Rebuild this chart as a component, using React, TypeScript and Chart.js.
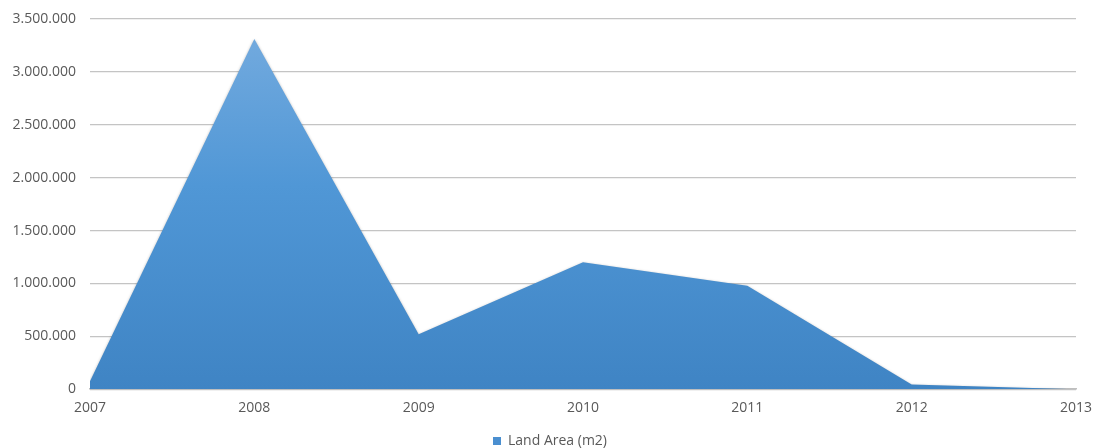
import React, { useEffect, useRef } from "react";
import { Chart, registerables } from "chart.js";

Chart.register(...registerables);

const years = ["2007", "2008", "2009", "2010", "2011", "2012", "2013"];
const landArea = [75000, 3310000, 520000, 1200000, 978000, 45000, 0];
const seriesLabel = "Land Area (m2)";

const FONT = "'Open Sans', 'Liberation Sans', sans-serif";
const TEXT = "#595959";

// Thousands separated by dots: 3500000 -> "3.500.000"
function formatDots(v: number): string {
  return String(Math.round(v)).replace(/\B(?=(\d{3})+(?!\d))/g, ".");
}

// Soft drop shadow under the filled area
const areaShadow = {
  id: "areaShadow",
  beforeDatasetsDraw(chart: any) {
    const ctx = chart.ctx;
    ctx.save();
    ctx.shadowColor = "rgba(0,0,0,0.35)";
    ctx.shadowBlur = 3;
    ctx.shadowOffsetX = 0;
    ctx.shadowOffsetY = 1;
  },
  afterDatasetsDraw(chart: any) {
    chart.ctx.restore();
  },
};

// Centre the legend under the whole canvas rather than the padded layout box
const legendShift = {
  id: "legendShift",
  afterLayout(chart: any) {
    const lg = chart.legend;
    if (!lg) return;
    lg.left += 12;
    lg.right += 12;
  },
};

export default function App() {
  const ref = useRef<HTMLCanvasElement>(null);

  useEffect(() => {
    if (!ref.current) return;
    const chart = new Chart(ref.current, {
      type: "line",
      data: {
        labels: years,
        datasets: [
          {
            label: seriesLabel,
            data: landArea,
            fill: "origin",
            borderWidth: 0,
            borderColor: "rgba(0,0,0,0)",
            pointRadius: 0,
            tension: 0,
            backgroundColor: (c: any) => {
              const area = c.chart.chartArea;
              if (!area) return "#4a8fd0";
              const g = c.chart.ctx.createLinearGradient(0, area.top, 0, area.bottom);
              g.addColorStop(0, "#76acdf");
              g.addColorStop(0.45, "#5097d6");
              g.addColorStop(1, "#3f84c4");
              return g;
            },
          },
        ],
      },
      options: {
        animation: false,
        responsive: false,
        maintainAspectRatio: false,
        layout: { padding: { left: 0, right: 24, top: 19, bottom: -10 } },
        plugins: {
          legend: {
            position: "bottom",
            labels: {
              font: { family: FONT, size: 14 },
              color: TEXT,
              boxWidth: 8,
              boxHeight: 8,
              padding: 8,
              generateLabels: () => [
                {
                  text: seriesLabel,
                  fillStyle: "#4a8fd0",
                  strokeStyle: "#4a8fd0",
                  lineWidth: 0,
                  datasetIndex: 0,
                  fontColor: TEXT,
                } as any,
              ],
            },
          },
          tooltip: { enabled: false },
        },
        scales: {
          x: {
            offset: false,
            afterFit: (s: any) => {
              s.paddingLeft = 0;
              s.paddingRight = 0;
            },
            grid: { display: false, drawTicks: false },
            border: { display: true, color: "#bfbfbf", width: 1.5 },
            ticks: {
              font: { family: FONT, size: 14 },
              color: TEXT,
              padding: 10,
              maxRotation: 0,
              autoSkip: false,
            },
          },
          y: {
            min: 0,
            max: 3500000,
            afterFit: (s: any) => {
              s.width = 90;
              s.paddingTop = 0;
              s.paddingBottom = 0;
            },
            grid: { color: "#c4c4c4", lineWidth: 1.2, drawTicks: false },
            border: { display: false },
            ticks: {
              stepSize: 500000,
              font: { family: FONT, size: 14 },
              color: TEXT,
              padding: 14,
              callback: (v: any) => formatDots(Number(v)),
            },
          },
        },
      },
      plugins: [areaShadow, legendShift],
    });
    return () => chart.destroy();
  }, []);

  return (
    <div style={{ position: "absolute", left: 0, top: 0, width: 1100, height: 448, background: "#fff" }}>
      <canvas ref={ref} width={1100} height={448} />
    </div>
  );
}
